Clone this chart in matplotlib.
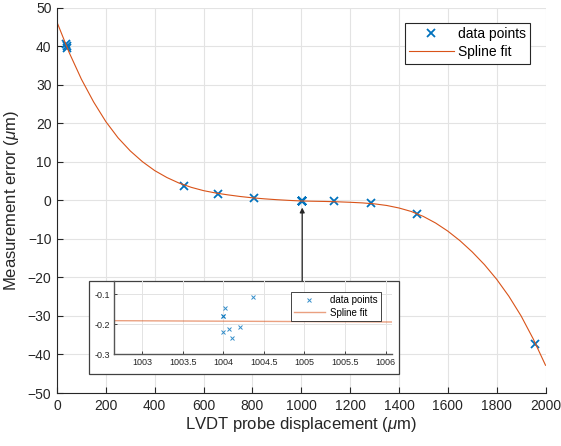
# Measurement error against LVDT probe displacement, with a zoomed inset
import matplotlib.pyplot as plt
from matplotlib.patches import Rectangle

plt.rcParams['font.family'] = ['Liberation Sans', 'DejaVu Sans']
plt.rcParams['mathtext.fontset'] = 'custom'
plt.rcParams['mathtext.rm'] = 'Liberation Sans'
plt.rcParams['mathtext.it'] = 'Liberation Sans:italic'

# measured points (um)
data_x = [38, 42, 40, 521, 661, 808,
          1004.0, 1004.02, 1004.0, 1004.0, 1004.07, 1004.1, 1004.21, 1004.36,
          1134, 1284, 1472, 1957]
data_y = [40.5, 40.0, 39.6, 3.8, 1.6, 0.5,
          -0.172, -0.147, -0.227, -0.172, -0.215, -0.245, -0.211, -0.11,
          -0.3, -0.7, -3.5, -37.3]

# spline fit evaluated along the displacement range
spline_x = list(range(0, 2001, 50))
spline_y = [46.2, 38.3, 31.4, 25.5, 20.4, 16.2, 12.8, 10.0, 7.7, 5.9,
            4.45, 3.35, 2.5, 1.88, 1.4, 0.98, 0.64, 0.37, 0.15, -0.03,
            -0.185, -0.25, -0.31, -0.4, -0.52, -0.68, -0.93, -1.35, -2.0, -2.9,
            -4.2, -5.9, -8.0, -10.5, -13.4, -16.7, -20.5, -24.9, -30.0, -36.0,
            -42.8]

xticks = list(range(0, 2001, 200))
yticks = list(range(-50, 51, 10))
inset_xticks = [1003, 1003.5, 1004, 1004.5, 1005, 1005.5, 1006]
inset_yticks = [-0.3, -0.2, -0.1]

blue = '#0072BD'
orange = '#D95319'
dark = '#262626'
gridc = '#e3e3e3'

fig = plt.figure(figsize=(5.61, 4.46), dpi=100)
ax = fig.add_axes([0.1016, 0.1188, 0.8708, 0.8643])

ax.plot(data_x, data_y, 'x', color=blue, ms=6, mew=1.3, label='data points')
ax.plot(spline_x, spline_y, '-', color=orange, lw=0.8, label='Spline fit')

ax.set_xlim(0, 2000)
ax.set_ylim(-50, 50)
ax.set_xticks(xticks)
ax.set_yticks(yticks)
ax.grid(True, color=gridc, lw=0.8)
ax.set_axisbelow(True)
for s in ['top', 'right']:
    ax.spines[s].set_visible(False)
for s in ['left', 'bottom']:
    ax.spines[s].set_color(dark)
    ax.spines[s].set_linewidth(0.8)
ax.tick_params(direction='in', length=4, width=0.8, colors=dark, labelsize=10, pad=4)
ax.set_xlabel(r'LVDT probe displacement ($\mu$m)', fontsize=12, color=dark, labelpad=2)
ax.set_ylabel(r'Measurement error ($\mu$m)', fontsize=12, color=dark, labelpad=5)

leg = ax.legend(loc='upper right', bbox_to_anchor=(530 / 561, 1 - 23 / 446),
                bbox_transform=fig.transFigure, borderaxespad=0, fontsize=10,
                fancybox=False, framealpha=1, edgecolor=dark, handlelength=3.2,
                handletextpad=0.3, labelspacing=0.3, borderpad=0.3)
leg.get_frame().set_linewidth(0.8)

# frame around the zoomed view
frame = Rectangle((89 / 561, 72 / 446), 310 / 561, 93 / 446, transform=fig.transFigure,
                  facecolor='white', edgecolor='#404040', lw=0.9, zorder=1)
fig.add_artist(frame)

# arrow from the frame up to the cluster near 1004 um
ax.annotate('', xy=(1004, -1.9), xycoords='data',
            xytext=(1004, 1 - 281 / 446), textcoords=('data', 'figure fraction'),
            arrowprops=dict(arrowstyle='-|>', color=dark, lw=0.9,
                            mutation_scale=7, shrinkA=0, shrinkB=0))

ins = fig.add_axes([114 / 561, 92 / 446, 278 / 561, 73 / 446], zorder=2)
ins.set_facecolor('none')
ins.plot(data_x, data_y, 'x', color=blue, ms=3.5, mew=0.7, alpha=0.8, label='data points')
ins.plot(spline_x, spline_y, '-', color=orange, lw=1.0, alpha=0.55, label='Spline fit')
ins.set_xlim(1002.65, 1006.08)
ins.set_ylim(-0.3, -0.0557)
ins.set_xticks(inset_xticks)
ins.set_xticklabels(['%g' % v for v in inset_xticks])
ins.set_yticks(inset_yticks)
ins.set_yticklabels(['%g' % v for v in inset_yticks])
ins.grid(True, color=gridc, lw=0.7)
ins.set_axisbelow(True)
for s in ['top', 'right']:
    ins.spines[s].set_visible(False)
for s in ['left', 'bottom']:
    ins.spines[s].set_color('#555555')
    ins.spines[s].set_linewidth(1.0)
ins.tick_params(direction='in', length=2.5, width=0.6, colors=dark, labelsize=6.5, pad=3)

ileg = ins.legend(loc='upper right', bbox_to_anchor=(381 / 561, 1 - 292 / 446),
                  bbox_transform=fig.transFigure, borderaxespad=0, fontsize=7,
                  fancybox=False, framealpha=1, edgecolor=dark, handlelength=3.2,
                  handletextpad=0.6, labelspacing=0.3, borderpad=0.3)
ileg.get_frame().set_linewidth(0.6)

fig.savefig('out.png', dpi=100)
